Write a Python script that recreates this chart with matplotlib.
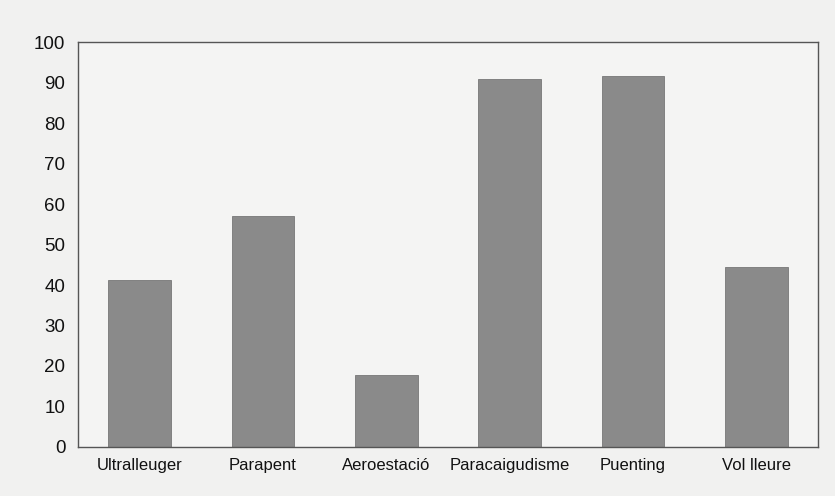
import numpy as np
import matplotlib
matplotlib.use("Agg")
import matplotlib.pyplot as plt

plt.rcParams['font.family'] = ['Liberation Sans', 'DejaVu Sans']

# Dades
categories = ['Ultralleuger', 'Parapent', 'Aeroestació', 'Paracaigudisme', 'Puenting', 'Vol lleure']
valors = [41.2, 57.0, 17.8, 90.8, 91.7, 44.5]
yticks = [0, 10, 20, 30, 40, 50, 60, 70, 80, 90, 100]

fig = plt.figure(figsize=(8.35, 4.96), dpi=100)
fig.patch.set_facecolor('#f1f1f0')
ax = fig.add_axes([0.0934, 0.0988, 0.8862, 0.8165])
ax.set_facecolor('#f4f4f3')

x = np.arange(len(categories))
ax.bar(x, valors, width=0.51, color='#8a8a8a', edgecolor='#777777', linewidth=0.6)

ax.set_xlim(-0.5, len(categories) - 0.5)
ax.set_ylim(0, 100)
ax.set_yticks(yticks)
ax.set_xticks(x)
ax.set_xticklabels(categories)
ax.tick_params(axis='y', length=0, labelsize=13.5, colors='#111111', pad=9)
ax.tick_params(axis='x', length=0, labelsize=12, colors='#111111', pad=8)

for s in ax.spines.values():
    s.set_color('#555555')
    s.set_linewidth(1.0)

fig.savefig('out.png', dpi=100, facecolor=fig.get_facecolor())
